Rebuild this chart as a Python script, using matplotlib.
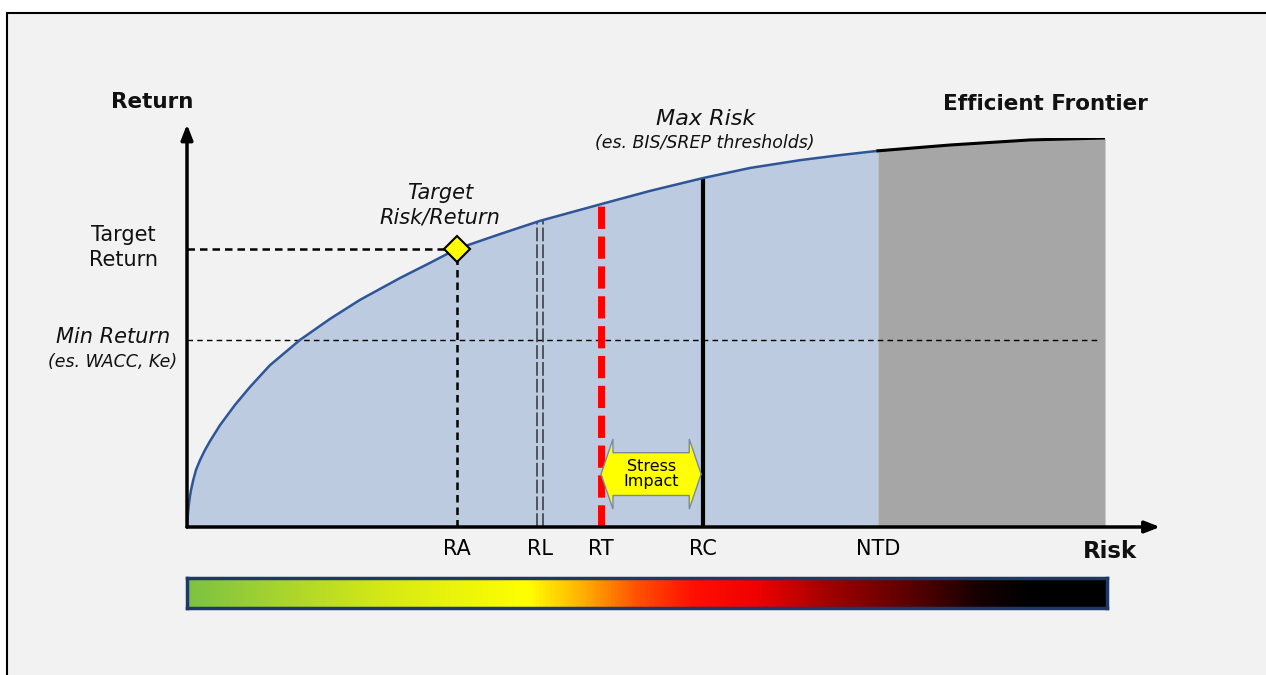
import numpy as np
import matplotlib.pyplot as plt
from matplotlib.patches import Rectangle, Polygon
from matplotlib.colors import LinearSegmentedColormap

# Efficient frontier (risk, return on a 0-100 scale)
risk = [0, 0.11, 0.22, 0.33, 0.44, 0.65, 0.98, 1.42, 1.96, 2.51, 3.60, 5.23, 6.86,
        9.04, 12.31, 15.58, 18.85, 23.20, 26.47, 29.41, 34.10, 38.45, 45.10, 50.44,
        56.21, 61.33, 66.78, 71.13, 75.27, 83.12, 91.83, 100]
ret = [0, 3.6, 6.2, 8.0, 9.5, 11.8, 14.7, 17.2, 19.8, 22.1, 26.2, 31.4, 36.0,
       41.6, 48.1, 53.5, 58.4, 64.0, 67.9, 71.5, 75.3, 78.7, 83.0, 86.4,
       89.7, 92.3, 94.3, 95.6, 96.7, 98.2, 99.5, 100]

# Risk thresholds on the x axis and the frontier value above each
thr_labels = ["RA", "RL", "RT", "RC", "NTD"]
thr_risk = [29.41, 38.45, 45.10, 56.21, 75.27]
thr_ret = [71.5, 78.7, 83.0, 89.7, 96.7]

target_return = 71.5
min_return = 48.1

# Colour scale under the chart
bar_pos = [0.0, 0.10, 0.22, 0.37, 0.43, 0.49, 0.55, 0.62, 0.70, 0.78, 0.86, 0.92, 1.0]
bar_cols = ["#7cc242", "#a8d42e", "#d8ea14", "#ffff00", "#ffb000", "#ff5000",
            "#ff1000", "#f00000", "#a00000", "#600000", "#180000", "#000000", "#000000"]

W, H = 1266, 675
fig = plt.figure(figsize=(W / 100, H / 100), dpi=100)
fig.patch.set_facecolor("white")

# framed light grey panel
fig.patches.append(Rectangle((7 / W, -0.1), 1.2, 1.1 - 13 / H,
                             transform=fig.transFigure, facecolor="#f2f2f2",
                             edgecolor="black", linewidth=1.5, zorder=-5))

ax = fig.add_axes([187 / W, 148 / H, 918 / W, 389 / H])
ax.set_xlim(0, 100)
ax.set_ylim(0, 100)
ax.axis("off")

risk = np.array(risk)
ret = np.array(ret)
ntd = thr_risk[4]
blue = risk <= ntd
grey = risk >= ntd

ax.fill_between(risk[blue], 0, ret[blue], color="#bccbe0", lw=0, zorder=1)
ax.fill_between(risk[grey], 0, ret[grey], color="#a6a6a6", lw=0, zorder=1)
ax.plot(risk[blue], ret[blue], color="#2e5597", lw=1.8, zorder=4, solid_joinstyle="round")
ax.plot(risk[grey], ret[grey], color="black", lw=2.2, zorder=4, solid_joinstyle="round")

# axes with arrows
ax.annotate("", xy=(106, 0), xytext=(0, 0), annotation_clip=False, zorder=6,
            arrowprops=dict(arrowstyle="-|>,head_length=0.9,head_width=0.35", lw=2.5, color="black", shrinkA=0, shrinkB=0))
ax.annotate("", xy=(0, 103.5), xytext=(0, 0), annotation_clip=False, zorder=6,
            arrowprops=dict(arrowstyle="-|>,head_length=0.9,head_width=0.35", lw=2.5, color="black", shrinkA=0, shrinkB=0))

# min return and target return guides
ax.plot([0, 99.5], [min_return, min_return], color="black", lw=1, dashes=(4, 3), zorder=3)
ax.plot([0, thr_risk[0]], [target_return, target_return], color="black", lw=1.8, dashes=(3, 2), zorder=3)
ax.plot([thr_risk[0], thr_risk[0]], [0, thr_ret[0]], color="black", lw=1.8, dashes=(3, 2), zorder=3)

# RL: double dashed line
for off in (-0.3, 0.3):
    ax.plot([thr_risk[1] + off] * 2, [0, thr_ret[1]], color="#333333", lw=1.1, dashes=(9, 2), zorder=3)
# RT: red dashed
ax.plot([thr_risk[2]] * 2, [0, thr_ret[2]], color="#ff0000", lw=5, dashes=(3.2, 1.1), zorder=3)
# RC: solid black
ax.plot([thr_risk[3]] * 2, [0, thr_ret[3]], color="black", lw=3, zorder=3, solid_capstyle="butt")

# target point
ax.plot(thr_risk[0], target_return, marker="D", ms=13, mfc="#ffff00", mec="black", mew=1.5, zorder=7)

# stress impact double arrow between RT and RC
x0, x1 = thr_risk[2], thr_risk[3] - 0.2
yc, body, head, hl = 13.6, 5.5, 9.0, 1.3
arrow = Polygon([(x0, yc), (x0 + hl, yc + head), (x0 + hl, yc + body), (x1 - hl, yc + body),
                 (x1 - hl, yc + head), (x1, yc), (x1 - hl, yc - head), (x1 - hl, yc - body),
                 (x0 + hl, yc - body), (x0 + hl, yc - head)], closed=True,
                facecolor="#ffff00", edgecolor="#7a8aa6", lw=1, zorder=8)
ax.add_patch(arrow)
ax.text((x0 + x1) / 2, yc, "Stress\nImpact", ha="center", va="center",
        fontsize=11.5, linespacing=1.0, zorder=9)

# threshold labels
for lab, x in zip(thr_labels, thr_risk):
    ax.text(x, -5.7, lab, ha="center", va="center", fontsize=15, clip_on=False)

txt = dict(clip_on=False, color="#111111")
ax.text(-3.8, 109.3, "Return", ha="center", va="center", fontsize=15.5, fontweight="bold", **txt)
ax.text(100.5, -6.2, "Risk", ha="center", va="center", fontsize=16.5, fontweight="bold", **txt)
ax.text(93.5, 108.7, "Efficient Frontier", ha="center", va="center", fontsize=15.5, fontweight="bold", **txt)
ax.text(-3.2, 71.8, "Target\nReturn", ha="right", va="center", multialignment="center",
        fontsize=15, linespacing=1.3, **txt)
ax.text(-8.1, 48.8, "Min Return", ha="center", va="center", fontsize=15, style="italic", **txt)
ax.text(-8.1, 42.4, "(es. WACC, Ke)", ha="center", va="center", fontsize=12.5, style="italic", **txt)
ax.text(27.6, 82.8, "Target\nRisk/Return", ha="center", va="center", fontsize=15, style="italic",
        linespacing=1.3, **txt)
ax.text(56.5, 104.9, "Max Risk", ha="center", va="center", fontsize=16, style="italic", **txt)
ax.text(56.4, 98.6, "(es. BIS/SREP thresholds)", ha="center", va="center", fontsize=12.5, style="italic", **txt)

# colour bar
cax = fig.add_axes([187 / W, (H - 608) / H, 920 / W, 30 / H])
cmap = LinearSegmentedColormap.from_list("risk", list(zip(bar_pos, bar_cols)))
cax.imshow(np.linspace(0, 1, 512)[None, :], aspect="auto", cmap=cmap, extent=(0, 1, 0, 1))
cax.set_xticks([])
cax.set_yticks([])
for s in cax.spines.values():
    s.set_color("#1f3864")
    s.set_linewidth(2.5)

fig.savefig("out.png", dpi=100, facecolor=fig.get_facecolor())
